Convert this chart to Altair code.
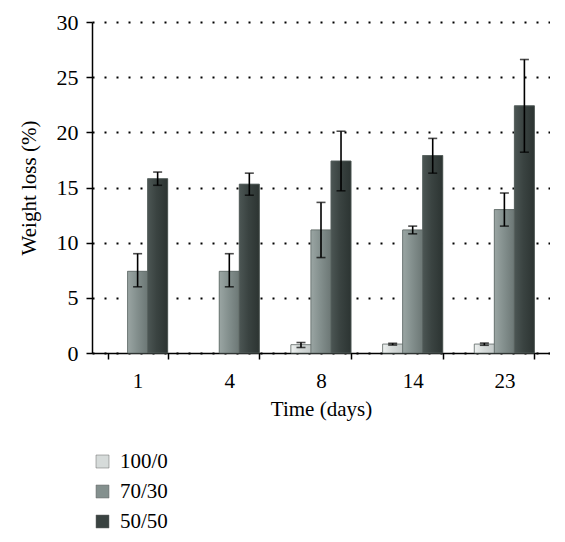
import altair as alt
import pandas as pd
import numpy as np

days = ["1", "4", "8", "14", "23"]
groups = ["100/0", "70/30", "50/50"]
colors = ["#d6dbda", "#84908e", "#3a4341"]
light = ["#eef1f0", "#9aa5a3", "#4c5654"]
dark = ["#c3c9c8", "#6c7775", "#2c3432"]

val_100 = [0.0, 0.0, 0.75, 0.8, 0.8]
lo_100 = [np.nan, np.nan, 0.5, 0.72, 0.7]
hi_100 = [np.nan, np.nan, 0.95, 0.88, 0.9]

val_70 = [7.4, 7.4, 11.15, 11.15, 13.0]
lo_70 = [6.0, 6.0, 8.65, 10.8, 11.5]
hi_70 = [9.0, 9.0, 13.65, 11.5, 14.5]

val_50 = [15.8, 15.3, 17.4, 17.9, 22.4]
lo_50 = [15.2, 14.3, 14.7, 16.3, 18.2]
hi_50 = [16.4, 16.3, 20.1, 19.45, 26.6]

rows = []
for g, v, lo, hi in [("100/0", val_100, lo_100, hi_100),
                     ("70/30", val_70, lo_70, hi_70),
                     ("50/50", val_50, lo_50, hi_50)]:
    for d, a, b, c in zip(days, v, lo, hi):
        rows.append({"day": d, "group": g, "value": a, "lo": b, "hi": c})
df = pd.DataFrame(rows)
err = df.dropna(subset=["lo"])

FONT = "Liberation Serif"

x = alt.X("day:N", sort=days, title="Time (days)",
          scale=alt.Scale(domain=days, paddingInner=0.345, paddingOuter=0.17),
          axis=alt.Axis(labelAngle=0, tickBand="extent", domainColor="black",
                        tickColor="black", tickSize=6, tickWidth=1.5, domainWidth=1.5,
                        labelPadding=11, titlePadding=7, labelFontSize=21,
                        titleFontSize=21, labelFont=FONT, titleFont=FONT,
                        labelColor="black", titleColor="black", titleFontWeight="normal"))
xs = alt.X("day:N", sort=days)
xo = alt.XOffset("group:N", sort=groups,
                 scale=alt.Scale(domain=groups, paddingInner=0, paddingOuter=0))

bars = alt.Chart(df).transform_filter(alt.datum.value > 0).mark_bar(
    stroke="#5a6462", strokeWidth=0.6).encode(
    x=x,
    xOffset=xo,
    y=alt.Y("value:Q", title="Weight loss (%)",
            scale=alt.Scale(domain=[0, 30], nice=False),
            axis=alt.Axis(values=[0, 5, 10, 15, 20, 25, 30], grid=True,
                          gridColor="black", gridDash=[2, 10], gridWidth=2,
                          domainColor="black", domainWidth=1.5, tickColor="black",
                          tickSize=6, tickWidth=1.5, labelPadding=8, titlePadding=17,
                          labelFontSize=22, titleFontSize=21, labelFont=FONT,
                          titleFont=FONT, labelColor="black", titleColor="black",
                          titleFontWeight="normal")),
    color=alt.Color("group:N", sort=groups,
                    scale=alt.Scale(domain=groups, range=colors),
                    legend=alt.Legend(title=None, orient="none", legendX=0, legendY=429,
                                      symbolType="square", symbolSize=169,
                                      symbolStrokeColor="#666", symbolStrokeWidth=0.5,
                                      labelFont=FONT, labelFontSize=21, labelColor="black",
                                      rowPadding=8, labelOffset=7)),
)

overlays = []
for g, lc, bc, dc in zip(groups, light, colors, dark):
    grad = alt.Gradient(gradient="linear", x1=0, x2=1, y1=0, y2=0,
                        stops=[alt.GradientStop(color=lc, offset=0),
                               alt.GradientStop(color=bc, offset=0.45),
                               alt.GradientStop(color=dc, offset=1)])
    overlays.append(
        alt.Chart(df).transform_filter((alt.datum.group == g) & (alt.datum.value > 0))
        .mark_bar(color=grad, stroke="#5a6462", strokeWidth=0.6)
        .encode(x=xs, xOffset=xo, y="value:Q")
    )

rule = alt.Chart(err).mark_rule(color="black", strokeWidth=1.6).encode(
    x=xs, xOffset=xo, y="lo:Q", y2="hi:Q")
cap_lo = alt.Chart(err).mark_tick(color="black", thickness=1.6, size=9).encode(
    x=xs, xOffset=xo, y="lo:Q")
cap_hi = alt.Chart(err).mark_tick(color="black", thickness=1.6, size=9).encode(
    x=xs, xOffset=xo, y="hi:Q")

chart = alt.layer(bars, *overlays, rule, cap_lo, cap_hi).properties(
    width=458, height=331,
    autosize=alt.AutoSizeParams(type="none"),
    padding={"left": 84, "top": 14, "right": 0, "bottom": 180},
).configure_view(stroke=None)

chart.save("out.html", embed_options={"renderer": "svg", "actions": False})
